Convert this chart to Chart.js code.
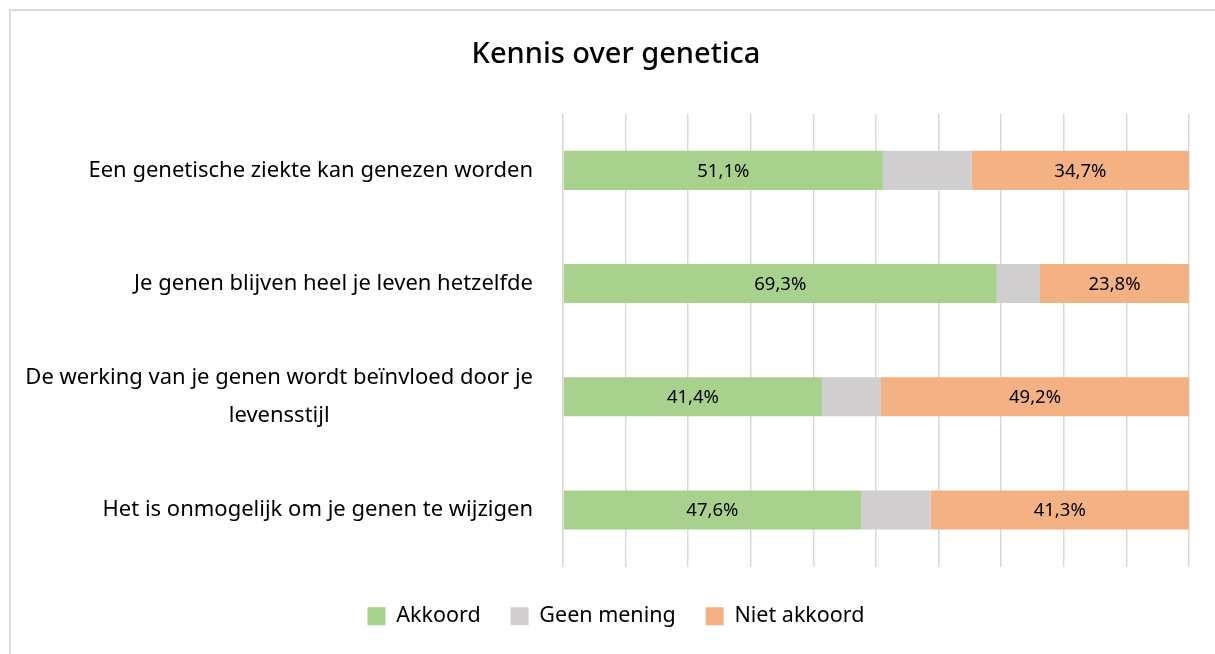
<!DOCTYPE html>
<html>
<head>
<meta charset="utf-8">
<script src="https://cdn.jsdelivr.net/npm/chart.js@4.4.1/dist/chart.umd.min.js"></script>
<style>
  html, body { margin: 0; padding: 0; background: #fff; overflow: hidden; }
  #frame { position: absolute; left: 9px; top: 9px; width: 1400px; height: 900px; border: 2px solid #d9d9d9; box-sizing: border-box; }
  #chart { position: absolute; left: 0; top: 0; }
</style>
</head>
<body>
<div id="frame"></div>
<canvas id="chart" width="1215" height="654"></canvas>
<script>
// Statements (categories)
const statements = [
    'Een genetische ziekte kan genezen worden',
    'Je genen blijven heel je leven hetzelfde',
    ['De werking van je genen wordt beïnvloed door je', 'levensstijl'],
    'Het is onmogelijk om je genen te wijzigen'
];

// Answers in percent
const akkoord = [51.1, 69.3, 41.4, 47.6];
const geenMening = [14.2, 6.9, 9.4, 11.1];
const nietAkkoord = [34.7, 23.8, 49.2, 41.3];

const FONT = '"Noto Sans", sans-serif';

function fmtPct(v) {
    return v.toFixed(1).replace('.', ',') + '%';
}

// Draw the statement labels: right aligned, wrapped lines centred on each other
const statementLabels = {
    id: 'statementLabels',
    afterDraw(chart) {
        const ctx = chart.ctx;
        const yScale = chart.scales.y;
        const right = chart.chartArea.left - 30;
        ctx.save();
        ctx.font = '22px ' + FONT;
        ctx.fillStyle = '#000';
        ctx.textAlign = 'center';
        ctx.textBaseline = 'middle';
        statements.forEach((lbl, i) => {
            const lines = Array.isArray(lbl) ? lbl : [lbl];
            const maxW = Math.max(...lines.map(l => ctx.measureText(l).width));
            const cx = right - maxW / 2;
            const y0 = yScale.getPixelForValue(i);
            const lh = 38;
            lines.forEach((line, j) => {
                ctx.fillText(line, cx, y0 + (j - (lines.length - 1) / 2) * lh);
            });
        });
        ctx.restore();
    }
};

// Values inside the green and orange segments
const barValues = {
    id: 'barValues',
    afterDatasetsDraw(chart) {
        const ctx = chart.ctx;
        ctx.save();
        ctx.font = '18.5px ' + FONT;
        ctx.fillStyle = '#000';
        ctx.textAlign = 'center';
        ctx.textBaseline = 'middle';
        [0, 2].forEach(di => {
            const meta = chart.getDatasetMeta(di);
            meta.data.forEach((el, i) => {
                const v = chart.data.datasets[di].data[i];
                ctx.fillText(fmtPct(v), (el.x + el.base) / 2, el.y + 1);
            });
        });
        ctx.restore();
    }
};

new Chart(document.getElementById('chart'), {
    type: 'bar',
    data: {
        labels: statements,
        datasets: [
            { label: 'Akkoord', data: akkoord, backgroundColor: '#a9d18e' },
            { label: 'Geen mening', data: geenMening, backgroundColor: '#d0cece' },
            { label: 'Niet akkoord', data: nietAkkoord, backgroundColor: '#f4b183' }
        ]
    },
    options: {
        indexAxis: 'y',
        responsive: false,
        animation: false,
        layout: { padding: { left: 43, right: 26, top: 0, bottom: 17 } },
        datasets: { bar: { barPercentage: 0.5, categoryPercentage: 0.69 } },
        scales: {
            x: {
                stacked: true,
                min: 0,
                max: 100,
                ticks: { display: false, stepSize: 10 },
                grid: { color: '#d9d9d9', lineWidth: 1.5, drawTicks: false },
                border: { display: false },
                afterFit(scale) { scale.height = 9; }
            },
            y: {
                stacked: true,
                ticks: { display: false },
                grid: { display: false, drawTicks: false },
                border: { display: false },
                afterFit(scale) { scale.width = 520; }
            }
        },
        plugins: {
            title: {
                display: true,
                text: 'Kennis over genetica',
                color: '#000',
                font: { family: FONT, size: 29, weight: '500' },
                padding: { top: 37, bottom: 42 }
            },
            legend: {
                position: 'bottom',
                labels: {
                    color: '#000',
                    font: { family: FONT, size: 21.5 },
                    boxWidth: 18,
                    boxHeight: 18,
                    padding: 30
                }
            },
            tooltip: { enabled: false }
        }
    },
    plugins: [statementLabels, barValues]
});
</script>
</body>
</html>
